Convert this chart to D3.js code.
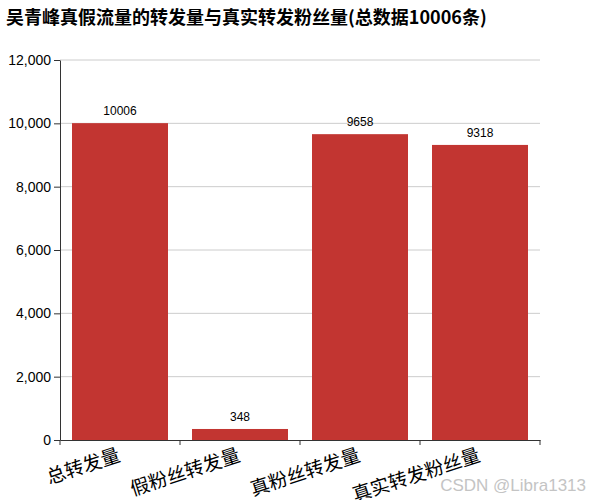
<!DOCTYPE html>
<html><head><meta charset="utf-8">
<script src="https://cdn.jsdelivr.net/npm/d3@7"></script>
<style>body{margin:0;background:#fff;} svg{display:block;}</style>
</head><body>
<svg id="c" width="600" height="500"></svg>
<script>
const titleText = "吴青峰真假流量的转发量与真实转发粉丝量(总数据10006条)";
const categories = ["总转发量", "假粉丝转发量", "真粉丝转发量", "真实转发粉丝量"];
const values = [10006, 348, 9658, 9318];
const yTicks = [0, 2000, 4000, 6000, 8000, 10000, 12000];

const svg = d3.select("#c");
const font = "'Helvetica Neue', Helvetica, Arial, 'Noto Sans CJK SC', sans-serif";
const m = {left: 60, right: 60, top: 60, bottom: 60};
const W = 600, H = 500;
const x = d3.scaleBand().domain(categories).range([m.left, W - m.right]).paddingInner(0.2).paddingOuter(0.1);
const y = d3.scaleLinear().domain([0, 12000]).range([H - m.bottom, m.top]);

svg.append("text").attr("x", 6).attr("y", 24).attr("font-family", "'Noto Sans CJK SC', sans-serif")
  .attr("font-weight", "bold").attr("font-size", 18).attr("fill", "#000").text(titleText);

// gridlines
svg.append("g").selectAll("line").data(yTicks.filter(d => d > 0)).join("line")
  .attr("x1", m.left).attr("x2", W - m.right).attr("y1", d => y(d)).attr("y2", d => y(d))
  .attr("stroke", "#ccc").attr("stroke-width", 1);

// bars
svg.append("g").selectAll("rect").data(values).join("rect")
  .attr("x", (d, i) => x(categories[i])).attr("width", x.bandwidth())
  .attr("y", d => y(d)).attr("height", d => y(0) - y(d)).attr("fill", "#c23531");

svg.append("g").selectAll("text").data(values).join("text")
  .attr("x", (d, i) => x(categories[i]) + x.bandwidth() / 2).attr("y", d => y(d) - 8)
  .attr("text-anchor", "middle").attr("font-family", font).attr("font-size", 12).attr("fill", "#000")
  .text(d => d);

// y axis
const ya = svg.append("g").attr("transform", `translate(${m.left},0)`)
  .call(d3.axisLeft(y).tickValues(yTicks).tickFormat(d3.format(",")).tickSize(6).tickSizeOuter(0));
ya.select(".domain").attr("stroke", "#333");
ya.selectAll(".tick line").attr("stroke", "#333");
ya.selectAll(".tick text").attr("font-family", font).attr("font-size", 14).attr("fill", "#000").attr("x", -9);

// x axis
const xb = d3.scaleBand().domain(categories).range([m.left, W - m.right]);
const xa = svg.append("g").attr("transform", `translate(0,${H - m.bottom})`)
  .call(d3.axisBottom(xb).tickSize(0).tickSizeOuter(0).tickFormat(""));
xa.select(".domain").attr("stroke", "#333");
const edges = d3.range(categories.length + 1).map(i => m.left + i * xb.step());
xa.append("g").selectAll("line").data(edges).join("line")
  .attr("x1", d => d).attr("x2", d => d).attr("y1", 0).attr("y2", 5).attr("stroke", "#333");
xa.append("g").selectAll("text").data(categories).join("text")
  .attr("transform", d => `translate(${xb(d) + xb.bandwidth() / 2 - 4},${4}) rotate(-18)`)
  .attr("text-anchor", "end").attr("dominant-baseline", "hanging")
  .attr("font-family", "'Noto Sans CJK SC', sans-serif").attr("font-size", 19).attr("fill", "#000")
  .text(d => d);

// watermark
svg.append("text").attr("x", 586).attr("y", 491).attr("text-anchor", "end")
  .attr("font-family", font).attr("font-size", 17).attr("fill", "#c4c4c4").text("CSDN @Libra1313");
</script>
</body></html>
